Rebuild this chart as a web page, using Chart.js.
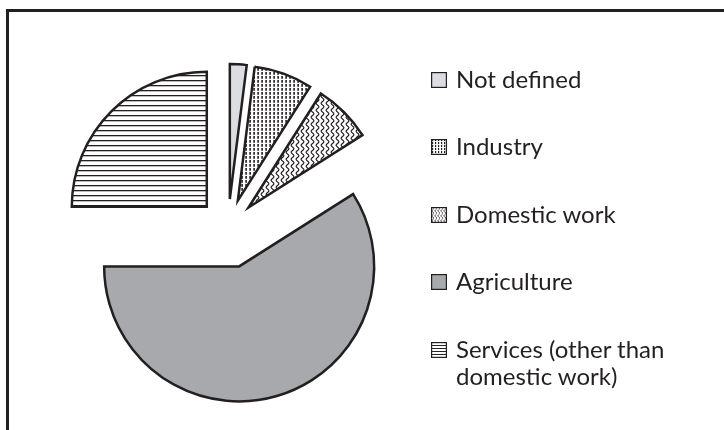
<!DOCTYPE html>
<html>
<head>
<meta charset="utf-8">
<script src="https://cdn.jsdelivr.net/npm/chart.js@4.4.1/dist/chart.umd.min.js"></script>
<style>
    html, body { margin: 0; padding: 0; background: #fff; }
    body { width: 724px; height: 430px; overflow: hidden; position: relative; font-family: Lato, "Open Sans", sans-serif; }
    #frame { position: absolute; left: 6px; top: 9px; width: 800px; height: 500px; border: 3px solid #231f20; box-sizing: border-box; }
    #wrap { position: absolute; left: 0; top: 0; width: 724px; height: 430px; }
    .item { position: absolute; left: 431px; color: #231f20; font-size: 24px; line-height: 27px; white-space: nowrap; }
    .item canvas { position: absolute; left: 0; }
    .item span { position: absolute; left: 25px; top: 0; }
</style>
</head>
<body>
<div id="frame"></div>
<div id="wrap"><canvas id="pieChart" width="724" height="430"></canvas></div>
<div id="legend"></div>

<script>
// chart data
const categories = ['Not defined', 'Industry', 'Domestic work', 'Agriculture', 'Services (other than domestic work)'];
const legendLines = [['Not defined'], ['Industry'], ['Domestic work'], ['Agriculture'], ['Services (other than', 'domestic work)']];
const shares = [2, 7, 7, 59, 25];

const ink = '#231f20';
const pieRadius = 135;
// how far each slice is pulled out, in px
const pullOut = [29, 29, 29, 40, 30];

function makePattern(w, h, draw) {
    const c = document.createElement('canvas');
    c.width = w;
    c.height = h;
    const g = c.getContext('2d');
    g.fillStyle = '#fff';
    g.fillRect(0, 0, w, h);
    draw(g, w, h);
    return c;
}

// one tile per slice, s = scale factor (legend swatches use a finer one)
function tiles(s) {
    return [
        makePattern(4, 4, g => { g.fillStyle = '#dcdde0'; g.fillRect(0, 0, 4, 4); }),
        makePattern(4 * s, 4 * s, g => {
            g.fillStyle = ink;
            g.fillRect(1.3 * s, 0, 1.6 * s, 2.8 * s);
        }),
        makePattern(5 * s, 7 * s, (g, w, h) => {
            g.strokeStyle = ink;
            g.lineWidth = 1.1 * s;
            g.beginPath();
            for (let y = -1; y <= h + 1; y += 0.5) {
                const x = w / 2 + 1.4 * s * Math.sin(2 * Math.PI * y / h);
                if (y === -1) g.moveTo(x, y); else g.lineTo(x, y);
            }
            g.stroke();
        }),
        makePattern(4, 4, g => { g.fillStyle = '#a7a9ac'; g.fillRect(0, 0, 4, 4); }),
        makePattern(4, 5 * s, g => {
            g.fillStyle = ink;
            g.fillRect(0, 0, 4, 1.3 * s);
        })
    ];
}

// explode the slices: move each arc's centre out along its bisector
// (the built-in offset in v4 also trims the arc angle, which the original doesn't)
const explode = {
    id: 'explode',
    afterDatasetUpdate(chart, args) {
        args.meta.data.forEach((arc, i) => {
            const mid = (arc.startAngle + arc.endAngle) / 2;
            arc.x += Math.cos(mid) * pullOut[i];
            arc.y += Math.sin(mid) * pullOut[i];
        });
    }
};

document.addEventListener('DOMContentLoaded', function () {
    const ctx = document.getElementById('pieChart').getContext('2d');
    const fills = tiles(1).map(t => ctx.createPattern(t, 'repeat'));

    new Chart(ctx, {
        type: 'pie',
        data: {
            labels: categories,
            datasets: [{
                data: shares,
                backgroundColor: fills,
                borderColor: ink,
                borderWidth: 2.5,
                borderJoinStyle: 'miter',
                clip: false
            }]
        },
        options: {
            responsive: false,
            animation: false,
            radius: pieRadius,
            layout: { padding: { left: 60, right: 328, top: 60, bottom: 34 } },
            plugins: {
                legend: { display: false },
                tooltip: { enabled: false }
            }
        },
        plugins: [explode]
    });

    // legend on the right
    const baselines = [88, 155, 223, 290, 358];
    const swatchTiles = tiles(0.75);
    const legend = document.getElementById('legend');
    legendLines.forEach((lines, i) => {
        const item = document.createElement('div');
        item.className = 'item';
        item.style.top = (baselines[i] - 23) + 'px';

        const sw = document.createElement('canvas');
        sw.width = 16;
        sw.height = 16;
        sw.style.top = '7px';
        const g = sw.getContext('2d');
        g.fillStyle = g.createPattern(swatchTiles[i], 'repeat');
        g.fillRect(0, 0, 16, 16);
        g.strokeStyle = ink;
        g.lineWidth = 1.2;
        g.strokeRect(0.6, 0.6, 14.8, 14.8);
        item.appendChild(sw);

        const label = document.createElement('span');
        label.innerHTML = lines.join('<br>');
        item.appendChild(label);
        legend.appendChild(item);
    });
});
</script>
</body>
</html>
